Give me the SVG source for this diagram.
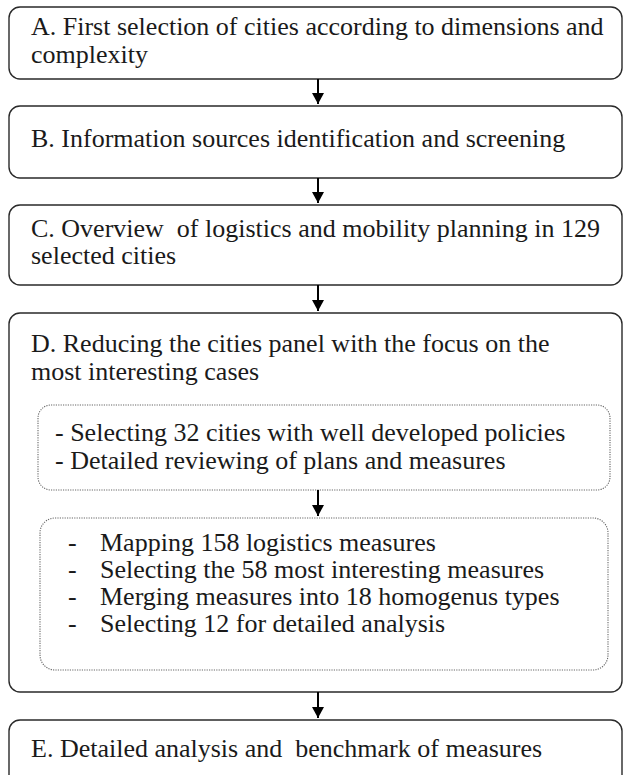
<svg xmlns="http://www.w3.org/2000/svg" width="624" height="775" viewBox="0 0 624 775">
<defs>
<style>
.box{fill:#fff;stroke:#2a2a2a;stroke-width:1.4}
.inner{fill:#fff;stroke:#666;stroke-width:1.1;stroke-dasharray:1.2 1.2}
.t{font-family:'Liberation Serif','Times New Roman',serif;font-size:26px;fill:#1a1a1a}
.conn{stroke:#000;stroke-width:2;fill:none}
</style>
<marker id="ah" viewBox="0 0 11 12" refX="11" refY="6" markerWidth="11" markerHeight="12" markerUnits="userSpaceOnUse" orient="auto">
<path d="M0,0 L11,6 L0,12 z" fill="#000"/>
</marker>
</defs>
<rect width="624" height="775" fill="#fff"/>
<g id="nodeA">
<rect class="box" x="9" y="7" width="613" height="72" rx="11"/>
<text class="t"><tspan x="31" y="35">A. First selection of cities according to dimensions and</tspan><tspan x="31" y="63">complexity</tspan></text>
</g>
<g id="nodeB">
<rect class="box" x="9" y="106" width="613" height="72" rx="11"/>
<text class="t" x="31" y="147">B. Information sources identification and screening</text>
</g>
<g id="nodeC">
<rect class="box" x="9" y="205" width="613" height="80" rx="11"/>
<text class="t" xml:space="preserve"><tspan x="31" y="237">C. Overview  of logistics and mobility planning in 129</tspan><tspan x="31" y="264">selected cities</tspan></text>
</g>
<g id="nodeD">
<rect class="box" x="9" y="313" width="613" height="379" rx="11"/>
<text class="t"><tspan x="31" y="352">D. Reducing the cities panel with the focus on the</tspan><tspan x="31" y="380">most interesting cases</tspan></text>
</g>
<g id="nodeD1">
<rect class="inner" x="38" y="405" width="572" height="85" rx="13"/>
<text class="t"><tspan x="55" y="441">- Selecting 32 cities with well developed policies</tspan><tspan x="55" y="469">- Detailed reviewing of plans and measures</tspan></text>
</g>
<g id="nodeD2">
<rect class="inner" x="40" y="518" width="568" height="152" rx="15"/>
<text class="t"><tspan x="68" y="551">-</tspan><tspan x="100" y="551">Mapping 158 logistics measures</tspan><tspan x="68" y="578">-</tspan><tspan x="100" y="578">Selecting the 58 most interesting measures</tspan><tspan x="68" y="605">-</tspan><tspan x="100" y="605">Merging measures into 18 homogenus types</tspan><tspan x="68" y="632">-</tspan><tspan x="100" y="632">Selecting 12 for detailed analysis</tspan></text>
</g>
<g id="nodeE">
<rect class="box" x="9" y="720" width="613" height="70" rx="11"/>
<text class="t" x="31" y="757" xml:space="preserve">E. Detailed analysis and  benchmark of measures</text>
</g>
<g id="connectors">
<line class="conn" x1="318" y1="79" x2="318" y2="104" marker-end="url(#ah)"/>
<line class="conn" x1="318" y1="178" x2="318" y2="203" marker-end="url(#ah)"/>
<line class="conn" x1="318" y1="285" x2="318" y2="311" marker-end="url(#ah)"/>
<line class="conn" x1="318" y1="490" x2="318" y2="516" marker-end="url(#ah)"/>
<line class="conn" x1="318" y1="692" x2="318" y2="718" marker-end="url(#ah)"/>
</g>
</svg>
